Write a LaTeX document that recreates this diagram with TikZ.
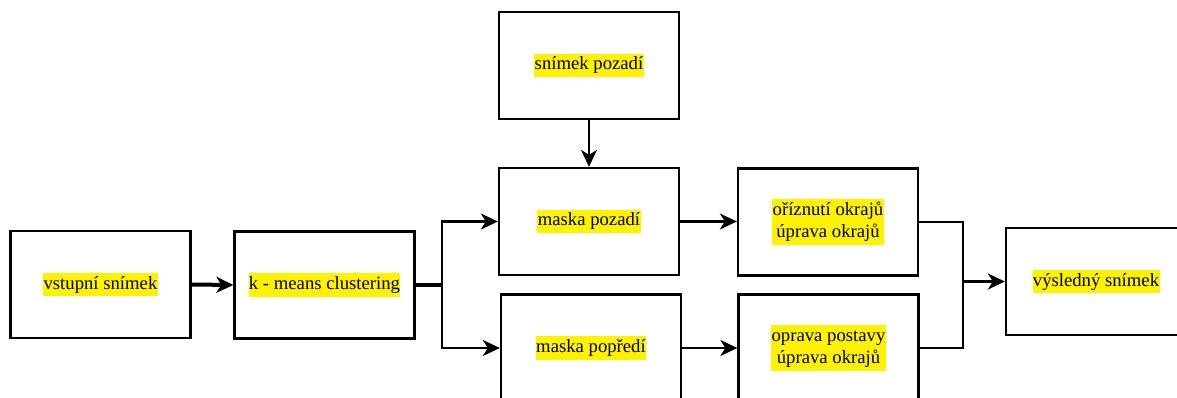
\documentclass[tikz,border=0pt]{standalone}
\usepackage{fontspec}
\setmainfont{Liberation Serif}
\usetikzlibrary{arrows.meta}
\newcommand\hlt[1]{{\setlength\fboxsep{0.4pt}\colorbox{yellow}{\begin{tabular}{@{}c@{}}#1\end{tabular}}}}
\begin{document}
\begin{tikzpicture}[x=1pt,y=-1pt,
  box/.style={draw=black, line width=2.3pt, fill=white, minimum width=180pt, minimum height=107pt,
    inner sep=0pt, font=\fontsize{18.7}{22.5}\selectfont},
  conn/.style={line width=2.2pt, draw=black},
  thick conn/.style={line width=4pt, draw=black},
  arr/.style={conn, -{Stealth[length=17pt,width=16pt,inset=5pt]}},
  thick arr/.style={thick conn, -{Stealth[length=17pt,width=16pt,inset=5pt]}}]
\useasboundingbox (0,0) rectangle (1177,398);
\clip (0,0) rectangle (1177,398);
\node[box] (vstup) at (100.5,284.5) {\hlt{vstupní snímek}};
\node[box] (kmeans) at (324.5,285) {\hlt{k - means clustering}};
\node[box] (pozadi) at (589,65.5) {\hlt{snímek pozadí}};
\node[box] (mpoz) at (589,221.5) {\hlt{maska pozadí}};
\node[box] (mpop) at (591,348) {\hlt{maska popředí}};
\node[box] (orez) at (828,222) {\hlt{oříznutí okrajů\\úprava okrajů}};
\node[box] (oprava) at (828.5,348) {\hlt{oprava postavy\\úprava okrajů}};
\node[box] (vysl) at (1096,281.5) {\hlt{výsledný snímek}};
\coordinate (j) at (442,285);
\coordinate (m) at (963,281.5);
\draw[thick arr] (vstup.east) -- (kmeans.west);
\draw[thick conn] (kmeans.east) -- (j);
\draw[arr] (j) |- (mpoz.west);
\draw[arr] (j) |- (mpop.west);
\draw[arr] (pozadi.south) -- (mpoz.north);
\draw[arr] (mpoz.east) -- (mpoz.east -| orez.west);
\draw[arr] (mpop.east) -- (oprava.west);
\draw[conn] (orez.east) -| (m) |- (oprava.east);
\draw[arr] (m) -- (vysl.west);
\end{tikzpicture}
\end{document}
